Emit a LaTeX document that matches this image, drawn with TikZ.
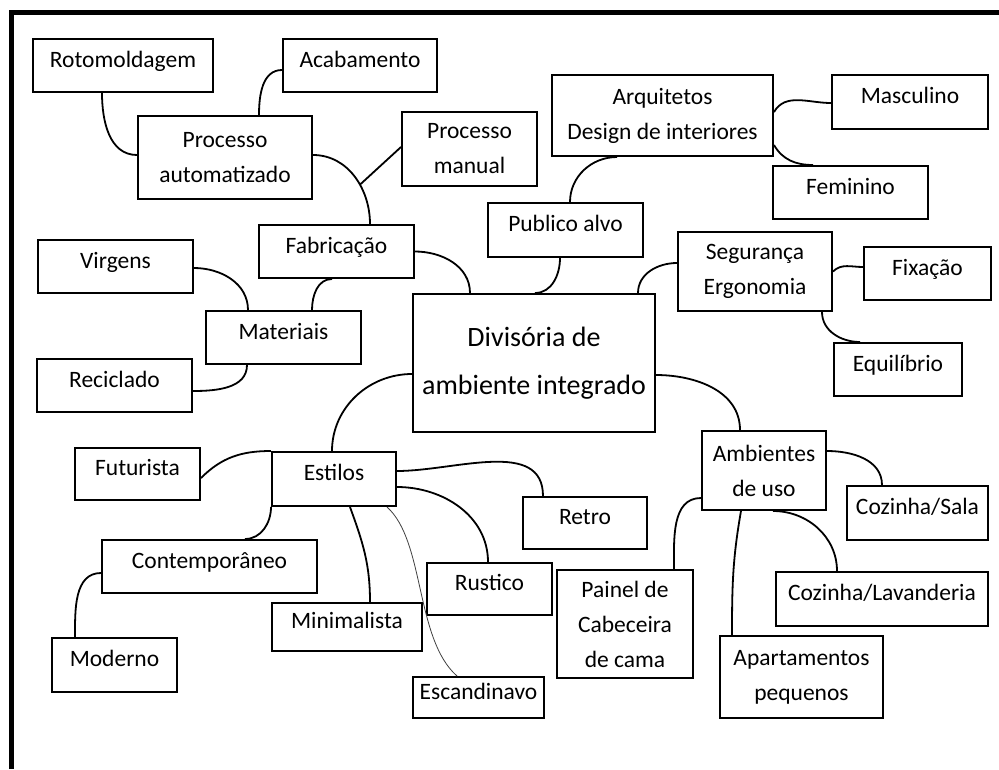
\documentclass[tikz,border=0pt]{standalone}
\usepackage{fontspec}
\setmainfont{Carlito}

\begin{document}
\begin{tikzpicture}[x=1pt, y=1pt,
    box/.style={draw, line width=2pt, inner sep=2pt, font=\fontsize{23.5}{35}\selectfont, text height=14pt, text depth=11pt},
    multibox/.style={draw, line width=2pt, inner sep=2pt, align=center, font=\fontsize{23.5}{35}\selectfont},
    bigbox/.style={draw, line width=2pt, inner sep=2pt, align=center, font=\fontsize{28}{48}\selectfont},
    link/.style={line width=1.8pt},
    thinlink/.style={line width=0.8pt, black!75}]
  \useasboundingbox (0,0) rectangle (999,-769);
  % Frame
  \draw[line width=5pt] (11,-769) -- (11,-12) -- (999,-12);
  % Centre
  \node[bigbox, minimum width=242pt, minimum height=138pt] (div) at (534,-363) {Divisória de\\ambiente integrado};
  % Fabricacao branch
  \node[box, minimum width=180pt, minimum height=53pt] (roto) at (123,-65.5) {Rotomoldagem};
  \node[box, minimum width=154pt, minimum height=53pt] (acab) at (360,-65.5) {Acabamento};
  \node[multibox, minimum width=174pt, minimum height=83pt] (pauto) at (225,-157.5) {Processo\\automatizado};
  \node[multibox, minimum width=135pt, minimum height=74pt] (pman) at (469.5,-149) {Processo\\manual};
  \node[box, minimum width=155pt, minimum height=53pt] (fab) at (336.5,-251.5) {Fabricação};
  \node[box, minimum width=155pt, minimum height=53pt] (virg) at (115.5,-266.5) {Virgens};
  \node[box, minimum width=155pt, minimum height=53pt] (mat) at (283.5,-337.5) {Materiais};
  \node[box, minimum width=155pt, minimum height=53pt] (recic) at (114.5,-385.5) {Reciclado};
  % Publico alvo branch
  \node[multibox, minimum width=221pt, minimum height=81pt] (arq) at (662.5,-115.5) {Arquitetos\\Design de interiores};
  \node[box, minimum width=156pt, minimum height=54pt] (masc) at (910,-102) {Masculino};
  \node[box, minimum width=155pt, minimum height=53pt] (fem) at (850.5,-192.5) {Feminino};
  \node[box, minimum width=155pt, minimum height=54pt] (pub) at (565.5,-230) {Publico alvo};
  % Seguranca branch
  \node[multibox, minimum width=154pt, minimum height=79pt] (seg) at (755,-271.5) {Segurança\\Ergonomia};
  \node[box, minimum width=127pt, minimum height=53pt] (fix) at (927.5,-273.5) {Fixação};
  \node[box, minimum width=128pt, minimum height=53pt] (equi) at (898,-369.5) {Equilíbrio};
  % Estilos branch
  \node[box, minimum width=124pt, minimum height=54pt] (est) at (334,-479) {Estilos};
  \node[box, minimum width=125pt, minimum height=52pt] (futu) at (137.5,-474) {Futurista};
  \node[box, minimum width=124pt, minimum height=52pt] (retro) at (585,-523) {Retro};
  \node[box, minimum width=125pt, minimum height=52pt] (rust) at (489.5,-589) {Rustico};
  \node[box, minimum width=150pt, minimum height=48pt] (mini) at (347,-627) {Minimalista};
  \node[box, minimum width=131pt, minimum height=41pt] (esca) at (478.5,-697.5) {Escandinavo};
  \node[box, minimum width=215pt, minimum height=53pt] (cont) at (209.5,-566.5) {Contemporâneo};
  \node[box, minimum width=125pt, minimum height=54pt] (mod) at (114.5,-665) {Moderno};
  % Ambientes branch
  \node[multibox, minimum width=124pt, minimum height=79pt] (amb) at (764,-470.5) {Ambientes\\de uso};
  \node[box, minimum width=141pt, minimum height=54pt] (cozs) at (917.5,-513) {Cozinha/Sala};
  \node[box, minimum width=212pt, minimum height=54pt] (cozl) at (882,-599) {Cozinha/Lavanderia};
  \node[multibox, minimum width=136pt, minimum height=108pt] (pain) at (625,-624) {Painel de\\Cabeceira\\de cama};
  \node[multibox, minimum width=163pt, minimum height=82pt] (apt) at (801.5,-677) {Apartamentos\\pequenos};
  % Links, Fabricacao
  \draw[link] ([xshift=-21]roto.south) to[out=-90, in=180] ([yshift=2.5]pauto.west);
  \draw[link] ([yshift=-4.5]acab.west) to[out=180, in=90] ([xshift=34]pauto.north);
  \draw[link] ([yshift=2.5]pauto.east) to[out=0, in=90] coordinate[pos=0.6] (fork) ([xshift=33.5]fab.north);
  \draw[link] ([yshift=2]pman.west) -- (fork);
  \draw[link] ([yshift=-1.5]virg.east) to[out=0, in=90] ([xshift=-35.5]mat.north);
  \draw[link] ([xshift=-4.5]fab.south) to[out=180, in=90] ([xshift=28.5]mat.north);
  \draw[link] ([yshift=-5.5]recic.east) to[out=0, in=-90] ([xshift=-36.5]mat.south);
  \draw[link] (fab.east) to[out=0, in=90] ([xshift=-64]div.north);
  % Links, Publico alvo and Seguranca
  \draw[link] ([yshift=3.5]arq.east) to[out=60, in=180] ([yshift=-1]masc.west);
  \draw[link] ([yshift=-29.5]arq.east) to[out=-60, in=180] ([xshift=-37.5]fem.north);
  \draw[link] ([xshift=-45.5]arq.south) to[out=180, in=90] ([xshift=4.5]pub.north);
  \draw[link] ([xshift=-5.5]pub.south) to[out=-90, in=0] ([xshift=1]div.north);
  \draw[link] ([yshift=8.5]seg.west) to[out=180, in=90] ([xshift=104]div.north);
  \draw[link] (seg.east) to[out=45, in=180] ([yshift=6.5]fix.west);
  \draw[link] ([xshift=67]seg.south) to[out=-90, in=180] ([xshift=-38]equi.north);
  % Links, Estilos
  \draw[link] ([yshift=-11]div.west) to[out=180, in=90] ([xshift=-2]est.north);
  \draw[link] ([yshift=-4]futu.east) to[out=45, in=180] (est.north west);
  \draw[link] ([yshift=8]est.east) to[out=0, in=90] ([xshift=-42]retro.north);
  \draw[link] ([yshift=-8]est.east) to[out=0, in=90] ([xshift=-1.5]rust.north);
  \draw[link] ([xshift=16]est.south) to[out=-70, in=90] ([xshift=23]mini.north);
  \draw[thinlink] ([xshift=53]est.south) .. controls +(38,-34) and +(-42,37) .. ([xshift=-21.5]esca.north);
  \draw[link] (est.south west) to[out=-90, in=0] ([xshift=35.5]cont.north);
  \draw[link] ([yshift=-6.5]cont.west) to[out=180, in=90] ([xshift=-39.5]mod.north);
  % Links, Ambientes
  \draw[link] ([yshift=-12]div.east) to[out=0, in=90] ([xshift=-24]amb.north);
  \draw[link] ([yshift=19.5]amb.east) to[out=0, in=90] ([xshift=-35.5]cozs.north);
  \draw[link] ([yshift=-27.5]amb.west) to[out=180, in=90] ([xshift=49]pain.north);
  \draw[link] ([xshift=-23]amb.south) to[out=-100, in=90] ([xshift=-69.5]apt.north);
  \draw[link] ([xshift=9]amb.south) to[out=0, in=90] ([xshift=-45]cozl.north);
\end{tikzpicture}
\end{document}
